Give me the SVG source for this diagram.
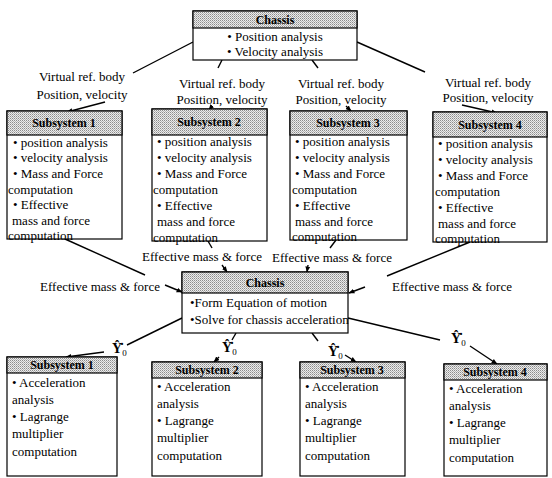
<svg xmlns="http://www.w3.org/2000/svg" width="552" height="478" viewBox="0 0 552 478" font-family="'Liberation Serif', 'Times New Roman', Times, serif">
<style>
text{font-family:'Liberation Serif','Times New Roman',Times,serif;font-size:13px;fill:#000}
.hd{font-size:12px;font-weight:bold;text-anchor:middle}
.lb{text-anchor:middle}
.box{fill:#fff;stroke:#000;stroke-width:1.2}
.head{fill:url(#hatch);stroke:#000;stroke-width:1.2}
.ln{stroke:#000;stroke-width:1.4;fill:none}
.ar{stroke:#000;stroke-width:1.4;fill:none;marker-end:url(#ah)}
.y{font-size:14px;font-weight:bold}
.s{font-size:9px;font-weight:normal}
</style>
<defs>
<pattern id="hatch" width="2" height="2" patternUnits="userSpaceOnUse">
<rect width="2" height="2" fill="#ececec"/>
<rect width="1" height="1" fill="#8c8c8c"/>
<rect x="1" y="1" width="1" height="1" fill="#b4b4b4"/>
</pattern>
<marker id="ah" viewBox="0 0 10 10" refX="9" refY="5" markerWidth="6" markerHeight="6" orient="auto" markerUnits="userSpaceOnUse">
<path d="M0,1 L10,5 L0,9 z" fill="#000"/>
</marker>
</defs>
<rect width="552" height="478" fill="#fff"/>

<g id="connectors">
<path class="ln" d="M193,42 L133,73"/>
<path class="ar" d="M105,102 L67,112"/>
<path class="ln" d="M222,60 L218,68"/>
<path class="ar" d="M212,106 L209,110"/>
<path class="ln" d="M312,60 L318,68"/>
<path class="ar" d="M346,106 L351,111"/>
<path class="ln" d="M357,42 L425,72"/>
<path class="ar" d="M462,105 L497,113"/>

<path class="ln" d="M65,239 L145,275"/>
<path class="ar" d="M165,285 L182,292"/>
<path class="ln" d="M208,241 L212,248"/>
<path class="ar" d="M222,265 L227,272"/>
<path class="ln" d="M336,240 L330,248"/>
<path class="ar" d="M308,265 L307,272"/>
<path class="ln" d="M470,242 L387,276"/>
<path class="ar" d="M365,287 L349,293"/>

<path class="ln" d="M182,318 L127,345"/>
<path class="ar" d="M104,352 L66,357"/>
<path class="ln" d="M236,333 L232,340"/>
<path class="ar" d="M219,357 L214,362"/>
<path class="ln" d="M312,333 L318,341"/>
<path class="ar" d="M345,355 L356,362"/>
<path class="ln" d="M348,318 L440,340"/>
<path class="ar" d="M470,346 L497,364"/>
</g>

<g id="labels">
<text class="lb" x="82" y="81">Virtual ref. body</text>
<text class="lb" x="82" y="99">Position, velocity</text>
<text class="lb" x="222" y="88">Virtual ref. body</text>
<text class="lb" x="222" y="104">Position, velocity</text>
<text class="lb" x="341" y="88">Virtual ref. body</text>
<text class="lb" x="341" y="104">Position, velocity</text>
<text class="lb" x="488" y="87">Virtual ref. body</text>
<text class="lb" x="488" y="102">Position, velocity</text>
<text class="lb" x="100" y="291">Effective mass &amp; force</text>
<text class="lb" x="202" y="261">Effective mass &amp; force</text>
<text class="lb" x="332" y="262">Effective mass &amp; force</text>
<text class="lb" x="452" y="291">Effective mass &amp; force</text>
<text class="y" x="112" y="353">Ŷ̇<tspan class="s" dy="3">0</tspan></text>
<text class="y" x="222" y="352">Ŷ̇<tspan class="s" dy="3">0</tspan></text>
<text class="y" x="328" y="356">Ŷ̇<tspan class="s" dy="3">0</tspan></text>
<text class="y" x="451" y="343">Ŷ̇<tspan class="s" dy="3">0</tspan></text>
</g>

<g id="chassis-top">
<rect class="box" x="193" y="11" width="164" height="49"/>
<rect class="head" x="193" y="11" width="164" height="17"/>
<text class="hd" x="275" y="24">Chassis</text>
<text class="lb" x="275" y="41">• Position analysis</text>
<text class="lb" x="275" y="56">• Velocity analysis</text>
</g>

<g id="sub1-top">
<rect class="box" x="7" y="111" width="115" height="128"/>
<rect class="head" x="7" y="111" width="115" height="24"/>
<text class="hd" x="64" y="127">Subsystem 1</text>
<text x="13" y="147">• position analysis</text>
<text x="13" y="162">• velocity analysis</text>
<text x="13" y="178">• Mass and Force</text>
<text x="8" y="194">computation</text>
<text x="13" y="209">• Effective</text>
<text x="12" y="225"> mass and force</text>
<text x="8" y="240">computation</text>
</g>

<g id="sub2-top">
<rect class="box" x="152" y="109" width="115" height="132"/>
<rect class="head" x="152" y="109" width="115" height="26"/>
<text class="hd" x="209" y="126">Subsystem 2</text>
<text x="157" y="146">• position analysis</text>
<text x="157" y="162">• velocity analysis</text>
<text x="157" y="178">• Mass and Force</text>
<text x="153" y="194">computation</text>
<text x="157" y="210">• Effective</text>
<text x="157" y="226"> mass and force</text>
<text x="153" y="242">computation</text>
</g>

<g id="sub3-top">
<rect class="box" x="290" y="111" width="117" height="129"/>
<rect class="head" x="290" y="111" width="117" height="24"/>
<text class="hd" x="348" y="127">Subsystem 3</text>
<text x="295" y="146">• position analysis</text>
<text x="295" y="162">• velocity analysis</text>
<text x="295" y="178">• Mass and Force</text>
<text x="292" y="194">computation</text>
<text x="295" y="210">• Effective</text>
<text x="295" y="226"> mass and force</text>
<text x="292" y="241">computation</text>
</g>

<g id="sub4-top">
<rect class="box" x="433" y="112" width="114" height="130"/>
<rect class="head" x="433" y="112" width="114" height="25"/>
<text class="hd" x="490" y="129">Subsystem 4</text>
<text x="438" y="148">• position analysis</text>
<text x="438" y="164">• velocity analysis</text>
<text x="438" y="180">• Mass and Force</text>
<text x="435" y="196">computation</text>
<text x="438" y="212">• Effective</text>
<text x="438" y="228"> mass and force</text>
<text x="435" y="243">computation</text>
</g>

<g id="chassis-mid">
<rect class="box" x="182" y="272" width="166" height="61"/>
<rect class="head" x="182" y="272" width="166" height="21"/>
<text class="hd" x="265" y="287">Chassis</text>
<text x="190" y="307">•Form Equation of motion</text>
<text x="190" y="324">•Solve for chassis acceleration</text>
</g>

<g id="sub1-bot">
<rect class="box" x="7" y="357" width="110" height="119"/>
<rect class="head" x="7" y="357" width="110" height="16"/>
<text class="hd" x="62" y="369">Subsystem 1</text>
<text x="12" y="387">• Acceleration</text>
<text x="12" y="404">analysis</text>
<text x="12" y="421">• Lagrange</text>
<text x="12" y="438">multiplier</text>
<text x="12" y="456">computation</text>
</g>

<g id="sub2-bot">
<rect class="box" x="152" y="362" width="110" height="114"/>
<rect class="head" x="152" y="362" width="110" height="16"/>
<text class="hd" x="207" y="374">Subsystem 2</text>
<text x="157" y="391">• Acceleration</text>
<text x="157" y="408">analysis</text>
<text x="157" y="425">• Lagrange</text>
<text x="157" y="442">multiplier</text>
<text x="157" y="460">computation</text>
</g>

<g id="sub3-bot">
<rect class="box" x="300" y="362" width="105" height="114"/>
<rect class="head" x="300" y="362" width="105" height="16"/>
<text class="hd" x="352" y="374">Subsystem 3</text>
<text x="305" y="391">• Acceleration</text>
<text x="305" y="408">analysis</text>
<text x="305" y="425">• Lagrange</text>
<text x="305" y="442">multiplier</text>
<text x="305" y="460">computation</text>
</g>

<g id="sub4-bot">
<rect class="box" x="444" y="364" width="103" height="112"/>
<rect class="head" x="444" y="364" width="103" height="16"/>
<text class="hd" x="495" y="376">Subsystem 4</text>
<text x="449" y="393">• Acceleration</text>
<text x="449" y="410">analysis</text>
<text x="449" y="427">• Lagrange</text>
<text x="449" y="444">multiplier</text>
<text x="449" y="462">computation</text>
</g>
</svg>
